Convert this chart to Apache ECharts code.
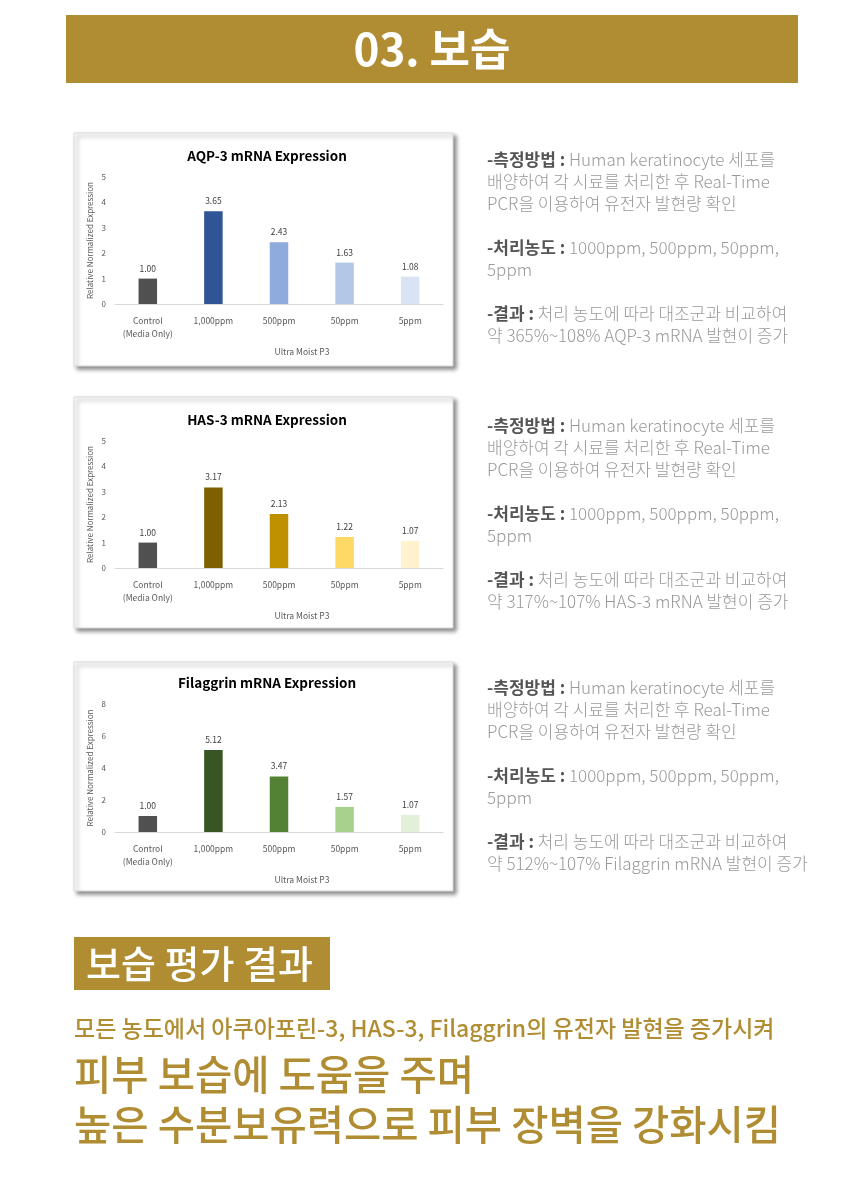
<!DOCTYPE html>
<html>
<head>
<meta charset="utf-8">
<script src="https://cdn.jsdelivr.net/npm/echarts@6/dist/echarts.min.js"></script>
<style>
html,body{margin:0;padding:0;background:#fff;}
#main{width:860px;height:1198px;}
</style>
</head>
<body>
<div id="main"></div>
<script>
// ---- data ----
var categories = ['Control\n(Media Only)', '1,000ppm', '500ppm', '50ppm', '5ppm'];
var aqpValues = [1.00, 3.65, 2.43, 1.63, 1.08];
var hasValues = [1.00, 3.17, 2.13, 1.22, 1.07];
var filValues = [1.00, 5.12, 3.47, 1.57, 1.07];
var chartTitles = ['AQP-3 mRNA Expression', 'HAS-3 mRNA Expression', 'Filaggrin mRNA Expression'];
var yMax = [5, 5, 8];
var yInterval = [1, 1, 2];
var xAxisName = 'Ultra Moist P3';
var yAxisName = 'Relative Normalized Expression';
var resultTexts = ['약 365%~108% AQP-3 mRNA 발현이 증가', '약 317%~107% HAS-3 mRNA 발현이 증가', '약 512%~107% Filaggrin mRNA 발현이 증가'];

// ---- styles ----
var aqpColors = ['#505050', '#2F5597', '#8FAADC', '#B4C7E7', '#DAE3F3'];
var hasColors = ['#505050', '#7F6000', '#BF9000', '#FFD966', '#FFF2CC'];
var filColors = ['#505050', '#375623', '#548235', '#A9D18E', '#E2F0D9'];
var allValues = [aqpValues, hasValues, filValues];
var allColors = [aqpColors, hasColors, filColors];
var gold = '#B08D32';
var FONT = '"Noto Sans CJK KR", "Noto Sans", sans-serif';

var boxTop = [133, 397, 662];
var boxH = [233, 231, 229];
var gridTop = [177, 441, 704];
var gridH = [127, 127, 128];
var titleY = [153, 417, 680];
var textTop = [160, 426, 688];

var grids = [], xAxes = [], yAxes = [], series = [], titles = [], graphics = [];

graphics.push({type:'rect', shape:{x:66, y:15, width:732, height:68}, style:{fill:gold}, z:0});
graphics.push({type:'text', x:432, y:49, style:{text:'03. 보습', fill:'#fff', font:'bold 44px ' + FONT, textAlign:'center', textVerticalAlign:'middle'}, z:1});

for (var i = 0; i < 3; i++) {
  graphics.push({type:'rect', shape:{x:74, y:boxTop[i], width:379, height:boxH[i]},
    style:{fill:'#fff', stroke:'#d9d9d9', lineWidth:1, shadowColor:'rgba(0,0,0,0.45)', shadowBlur:4, shadowOffsetX:3, shadowOffsetY:3}, z:0});
  grids.push({left:115, top:gridTop[i], width:328, height:gridH[i], containLabel:false});
  titles.push({text:chartTitles[i], left:262, top:titleY[i] - 9, textAlign:'center',
    textStyle:{fontFamily:FONT, fontSize:13.5, fontWeight:'bold', color:'#000'}});
  xAxes.push({type:'category', gridIndex:i, data:categories,
    axisLine:{lineStyle:{color:'#d9d9d9'}}, axisTick:{show:false},
    axisLabel:{color:'#595959', fontSize:8.5, fontFamily:FONT, margin:10, lineHeight:13, interval:0},
    name:xAxisName, nameLocation:'middle', nameGap:44,
    nameTextStyle:{color:'#595959', fontSize:8.5, fontFamily:FONT, padding:[0,0,0,46]}});
  yAxes.push({type:'value', gridIndex:i, min:0, max:yMax[i], interval:yInterval[i],
    axisLine:{show:false}, axisTick:{show:false}, splitLine:{show:false},
    axisLabel:{color:'#595959', fontSize:8, fontFamily:FONT, margin:9},
    name:yAxisName, nameLocation:'middle', nameGap:21,
    nameTextStyle:{color:'#595959', fontSize:8, fontFamily:FONT}});
  (function(ci){
    series.push({type:'bar', xAxisIndex:ci, yAxisIndex:ci, data:allValues[ci], barWidth:18.5, z:2,
      itemStyle:{color:function(p){return allColors[ci][p.dataIndex];}},
      label:{show:true, position:'top', distance:6, color:'#404040', fontSize:8.5, fontFamily:FONT,
        formatter:function(p){return p.value.toFixed(2);}}});
  })(i);

  var t = textTop[i];
  var base = {fill:'#999999', font:'300 17px ' + FONT, textVerticalAlign:'middle'};
  var rich = {b:{fill:'#555', fontWeight:'bold', fontSize:17, fontFamily:FONT}};
  var lines = [
    [t, '{b|-측정방법 :} Human keratinocyte 세포를'],
    [t + 22, '배양하여 각 시료를 처리한 후 Real-Time'],
    [t + 44, 'PCR을 이용하여 유전자 발현량 확인'],
    [t + 88, '{b|-처리농도 :} 1000ppm, 500ppm, 50ppm,'],
    [t + 110, '5ppm'],
    [t + 154, '{b|-결과 :} 처리 농도에 따라 대조군과 비교하여'],
    [t + 176, resultTexts[i]]
  ];
  lines.forEach(function(l){
    graphics.push({type:'text', x:487, y:l[0], style:Object.assign({text:l[1], rich:rich}, base), z:1});
  });
}

graphics.push({type:'rect', shape:{x:74, y:937, width:256, height:53}, style:{fill:gold}, z:0});
graphics.push({type:'text', x:86, y:964, style:{text:'보습 평가 결과', fill:'#fff', font:'500 38px ' + FONT, textVerticalAlign:'middle'}, z:1});
graphics.push({type:'text', x:74, y:1028, style:{text:'모든 농도에서 아쿠아포린-3, HAS-3, Filaggrin의 유전자 발현을 증가시켜', fill:gold, font:'500 23px ' + FONT, textVerticalAlign:'middle'}, z:1});
graphics.push({type:'text', x:74, y:1075, style:{text:'피부 보습에 도움을 주며', fill:gold, font:'500 40.5px ' + FONT, textVerticalAlign:'middle'}, z:1});
graphics.push({type:'text', x:74, y:1125, style:{text:'높은 수분보유력으로 피부 장벽을 강화시킴', fill:gold, font:'500 40.5px ' + FONT, textVerticalAlign:'middle'}, z:1});

var chart = echarts.init(document.getElementById('main'), null, {renderer:'canvas'});
chart.setOption({
  backgroundColor:'#fff',
  animation:false,
  title:titles,
  grid:grids,
  xAxis:xAxes,
  yAxis:yAxes,
  series:series,
  graphic:{elements:graphics}
});
</script>
</body>
</html>
